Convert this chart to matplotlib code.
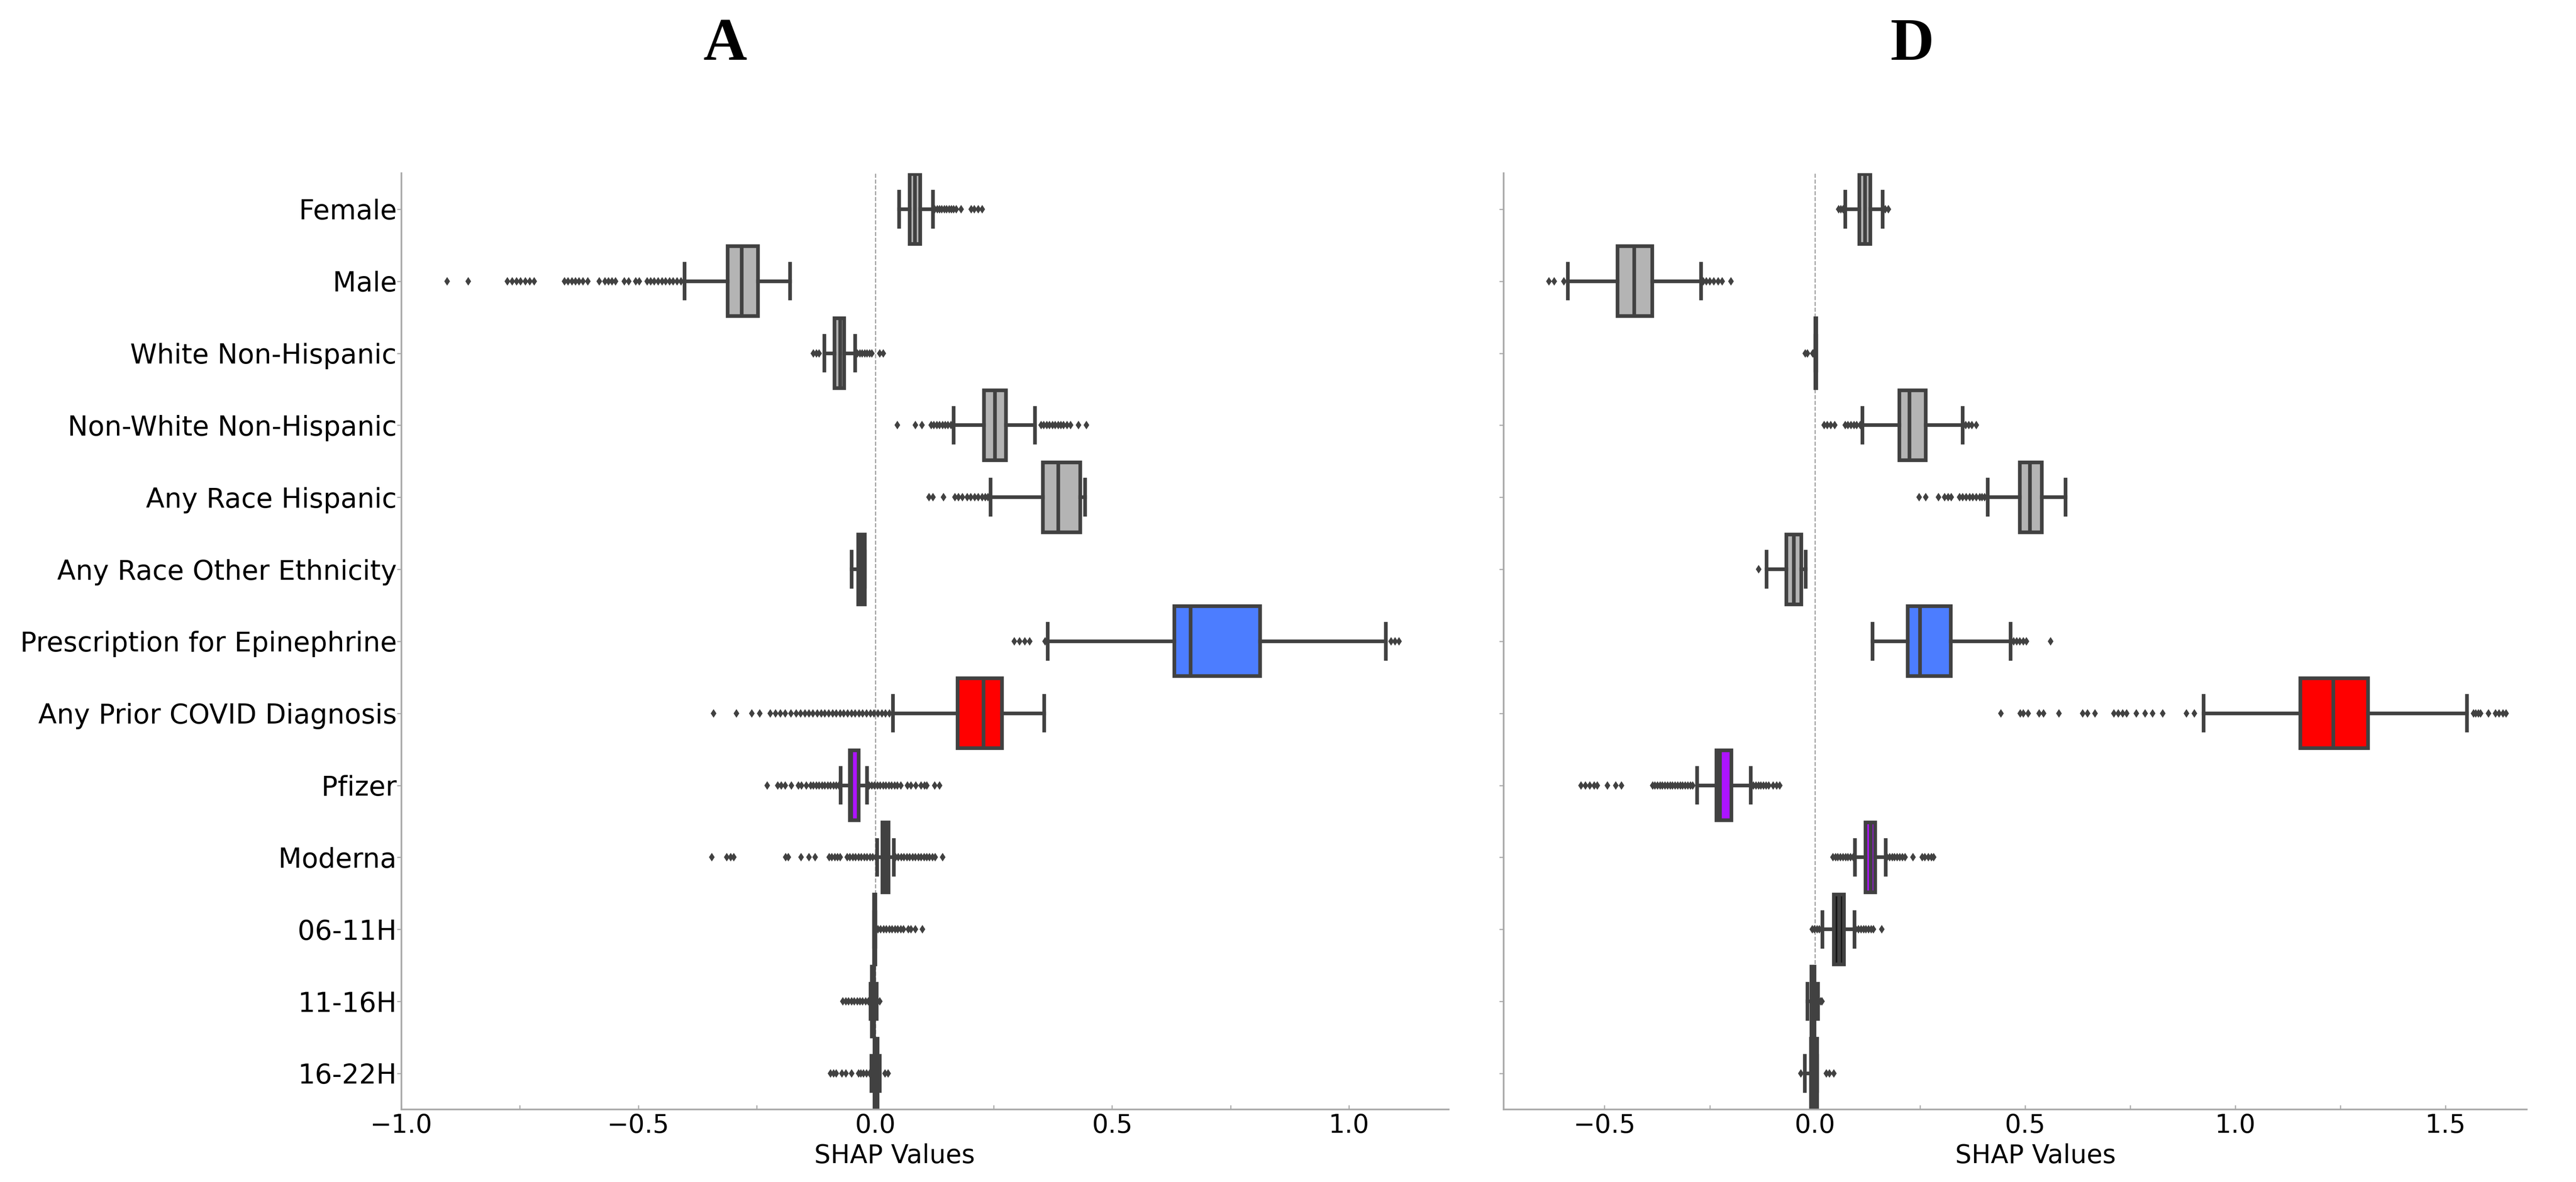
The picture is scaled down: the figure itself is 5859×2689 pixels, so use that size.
import matplotlib

matplotlib.use("Agg")
import matplotlib.pyplot as plt
from matplotlib.ticker import MultipleLocator

FEATURES = [
    "Female",
    "Male",
    "White Non-Hispanic",
    "Non-White Non-Hispanic",
    "Any Race Hispanic",
    "Any Race Other Ethnicity",
    "Prescription for Epinephrine",
    "Any Prior COVID Diagnosis",
    "Pfizer",
    "Moderna",
    "06-11H",
    "11-16H",
    "16-22H",
]

# panel A box statistics (SHAP values)
a_whislo = [0.051, -0.402, -0.107, 0.166, 0.244, -0.050, 0.364, 0.038, -0.073, 0.004, -0.002, -0.010, -0.008]
a_q1 = [0.073, -0.311, -0.086, 0.230, 0.354, -0.036, 0.631, 0.174, -0.053, 0.015, -0.002, -0.007, -0.001]
a_med = [0.084, -0.282, -0.074, 0.253, 0.386, -0.028, 0.666, 0.229, -0.051, 0.021, -0.001, -0.005, 0.002]
a_q3 = [0.095, -0.247, -0.065, 0.276, 0.433, -0.022, 0.812, 0.268, -0.035, 0.028, 0.000, -0.002, 0.005]
a_whishi = [0.122, -0.180, -0.042, 0.337, 0.443, -0.022, 1.078, 0.357, -0.017, 0.039, 0.000, 0.003, 0.010]
a_fliers = [
    [0.126, 0.131, 0.136, 0.141, 0.146, 0.151, 0.156, 0.161, 0.166, 0.171, 0.181, 0.203, 0.209, 0.218, 0.226],
    [-0.903, -0.859, -0.776, -0.766, -0.757, -0.748, -0.738, -0.729, -0.720, -0.656, -0.648, -0.640,
     -0.632, -0.625, -0.617, -0.606, -0.582, -0.570, -0.563, -0.555, -0.548, -0.529, -0.520, -0.505,
     -0.498, -0.481, -0.474, -0.466, -0.458, -0.450, -0.442, -0.434, -0.426, -0.418, -0.410],
    [-0.130, -0.124, -0.118, -0.038, -0.032, -0.027, -0.022, -0.017, -0.012, -0.007, 0.010, 0.017],
    [0.047, 0.085, 0.099, 0.118, 0.124, 0.130, 0.136, 0.142, 0.148, 0.154, 0.160,
     0.350, 0.356, 0.362, 0.368, 0.374, 0.380, 0.386, 0.392, 0.398, 0.405, 0.412, 0.429, 0.446],
    [0.114, 0.122, 0.144, 0.168, 0.176, 0.184, 0.194, 0.202, 0.210, 0.218, 0.226, 0.232, 0.238],
    [],
    [0.294, 0.305, 0.316, 0.326, 0.359, 1.089, 1.097, 1.106],
    [-0.341, -0.293, -0.260, -0.244, -0.221, -0.210, -0.200, -0.190, -0.178, -0.167, -0.157, -0.148,
     -0.140, -0.131, -0.122, -0.114, -0.106, -0.098, -0.090, -0.082, -0.074, -0.066, -0.058, -0.050,
     -0.042, -0.034, -0.026, -0.018, -0.010, -0.002, 0.006, 0.014, 0.022, 0.030],
    [-0.228, -0.206, -0.198, -0.190, -0.177, -0.162, -0.155, -0.145, -0.136, -0.130, -0.124, -0.118,
     -0.112, -0.106, -0.100, -0.094, -0.088, -0.082, -0.077, -0.013, -0.007, -0.001, 0.005, 0.011,
     0.017, 0.023, 0.029, 0.035, 0.041, 0.047, 0.054, 0.068, 0.076, 0.086, 0.097, 0.104, 0.109,
     0.126, 0.136],
    [-0.345, -0.313, -0.305, -0.298, -0.189, -0.183, -0.156, -0.140, -0.127, -0.097, -0.091, -0.085,
     -0.079, -0.074, -0.059, -0.053, -0.047, -0.041, -0.035, -0.029, -0.023, -0.017, -0.011, -0.005,
     0.001, 0.043, 0.049, 0.055, 0.061, 0.067, 0.073, 0.079, 0.085, 0.091, 0.097, 0.103, 0.109,
     0.115, 0.121, 0.127, 0.142],
    [0.006, 0.012, 0.018, 0.024, 0.030, 0.036, 0.042, 0.048, 0.054, 0.060, 0.070, 0.076, 0.085, 0.100],
    [-0.068, -0.062, -0.056, -0.050, -0.044, -0.038, -0.032, -0.026, -0.020, -0.014, 0.005, 0.010],
    [-0.094, -0.088, -0.082, -0.070, -0.062, -0.050, -0.035, -0.030, -0.025, -0.018, -0.012, 0.021, 0.027],
]

# panel D box statistics (SHAP values)
d_whislo = [0.072, -0.587, 0.001, 0.113, 0.411, -0.115, 0.137, 0.925, -0.280, 0.095, 0.018, -0.018, -0.024]
d_q1 = [0.106, -0.469, 0.001, 0.201, 0.487, -0.068, 0.221, 1.154, -0.234, 0.121, 0.045, -0.008, -0.009]
d_med = [0.119, -0.429, 0.002, 0.225, 0.512, -0.050, 0.250, 1.233, -0.226, 0.133, 0.058, -0.004, -0.002]
d_q3 = [0.132, -0.387, 0.003, 0.264, 0.540, -0.032, 0.323, 1.315, -0.198, 0.144, 0.069, -0.001, 0.006]
d_whishi = [0.161, -0.271, 0.003, 0.352, 0.596, -0.022, 0.466, 1.551, -0.152, 0.169, 0.094, 0.008, 0.006]
d_fliers = [
    [0.057, 0.062, 0.067, 0.168, 0.175],
    [-0.632, -0.620, -0.597, -0.265, -0.258, -0.250, -0.240, -0.230, -0.220, -0.199],
    [-0.023, -0.018, -0.005, -0.003],
    [0.022, 0.030, 0.038, 0.047, 0.072, 0.079, 0.086, 0.093, 0.100, 0.108, 0.359, 0.366, 0.374, 0.384],
    [0.248, 0.264, 0.294, 0.309, 0.317, 0.324, 0.344, 0.352, 0.360, 0.368, 0.376, 0.384, 0.392, 0.398, 0.404],
    [-0.134],
    [0.473, 0.480, 0.488, 0.496, 0.503, 0.561],
    [0.443, 0.489, 0.496, 0.507, 0.533, 0.544, 0.581, 0.637, 0.648, 0.666, 0.711, 0.722, 0.732, 0.742,
     0.765, 0.785, 0.803, 0.827, 0.884, 0.903, 1.566, 1.572, 1.578, 1.583, 1.602, 1.619, 1.627, 1.636, 1.644],
    [-0.556, -0.545, -0.535, -0.525, -0.517, -0.493, -0.473, -0.460, -0.386, -0.380, -0.374, -0.368,
     -0.362, -0.356, -0.350, -0.344, -0.338, -0.332, -0.326, -0.320, -0.314, -0.308, -0.302, -0.296,
     -0.290, -0.146, -0.140, -0.134, -0.128, -0.122, -0.116, -0.110, -0.099, -0.091, -0.083],
    [0.043, 0.049, 0.055, 0.061, 0.067, 0.073, 0.079, 0.085, 0.091, 0.172, 0.178, 0.184, 0.190, 0.196,
     0.202, 0.208, 0.215, 0.233, 0.255, 0.262, 0.270, 0.277, 0.283],
    [-0.006, -0.001, 0.005, 0.011, 0.017, 0.098, 0.104, 0.110, 0.116, 0.122, 0.128, 0.134, 0.139, 0.159],
    [0.010, 0.014, 0.017],
    [-0.033, 0.028, 0.035, 0.045],
]

GRAY = "#b4b4b4"
BLUE = "#4c7dff"
RED = "#ff0000"
PURPLE = "#ad14ff"
DARK = "#151515"
BOX_COLORS = [GRAY, GRAY, GRAY, GRAY, GRAY, GRAY, BLUE, RED, PURPLE, PURPLE, DARK, DARK, DARK]
LINE = "#414141"
SPINE = "#a8a8a8"


def draw_panel(ax, whislo, q1, med, q3, whishi, fliers, xlim, show_labels, label_x):
    stats = []
    for i in range(len(FEATURES)):
        stats.append(dict(whislo=whislo[i], q1=q1[i], med=med[i], q3=q3[i], whishi=whishi[i], fliers=fliers[i]))

    ax.axvline(0, color="#9a9a9a", linewidth=0.6, linestyle="--", zorder=0)
    line = dict(color=LINE, linewidth=2.0)
    parts = ax.bxp(
        stats,
        positions=range(len(FEATURES)),
        widths=0.97,
        orientation="horizontal",
        patch_artist=True,
        manage_ticks=False,
        boxprops=dict(edgecolor=LINE, linewidth=2.0),
        whiskerprops=line,
        capprops=line,
        medianprops=line,
        flierprops=dict(marker="d", markersize=2.2, markerfacecolor=LINE, markeredgecolor=LINE, linestyle="none"),
        zorder=2,
    )
    for patch, color in zip(parts["boxes"], BOX_COLORS):
        patch.set_facecolor(color)

    ax.set_ylim(len(FEATURES) - 0.5, -0.5)
    ax.set_xlim(*xlim)
    ax.set_yticks(range(len(FEATURES)))
    ax.set_yticklabels(FEATURES if show_labels else [])
    ax.xaxis.set_major_locator(MultipleLocator(0.5))
    ax.xaxis.set_minor_locator(MultipleLocator(0.25))
    ax.tick_params(axis="y", length=2.5, width=0.6, color=SPINE, pad=0, labelsize=14.8)
    ax.tick_params(axis="x", which="both", direction="in", length=2.5, width=0.6, color=SPINE, pad=2, labelsize=14)

    ax.spines[["top", "right"]].set_visible(False)
    for side in ["left", "bottom"]:
        ax.spines[side].set_color(SPINE)
        ax.spines[side].set_linewidth(0.9)

    ax.set_xlabel("SHAP Values", fontsize=14, va="top")
    ax.xaxis.set_label_coords(label_x, -0.036)


def main():
    fig = plt.figure(figsize=(5859 / 300, 2689 / 300), dpi=300, facecolor="white")

    ax_a = fig.add_axes([0.1558, 0.0614, 0.4065, 0.7921])
    draw_panel(ax_a, a_whislo, a_q1, a_med, a_q3, a_whishi, a_fliers, (-1.0, 1.21), True, 0.471)

    ax_d = fig.add_axes([0.5837, 0.0614, 0.3972, 0.7921])
    draw_panel(ax_d, d_whislo, d_q1, d_med, d_q3, d_whishi, d_fliers, (-0.74, 1.693), False, 0.52)

    title_font = dict(fontsize=33, family=["Liberation Serif", "DejaVu Serif"], weight="bold", ha="center", va="center")
    fig.text(0.2815, 0.962, "A", **title_font)
    fig.text(0.7423, 0.962, "D", **title_font)

    fig.savefig("out.png", dpi=300, facecolor="white")
    plt.close(fig)


if __name__ == "__main__":
    main()
